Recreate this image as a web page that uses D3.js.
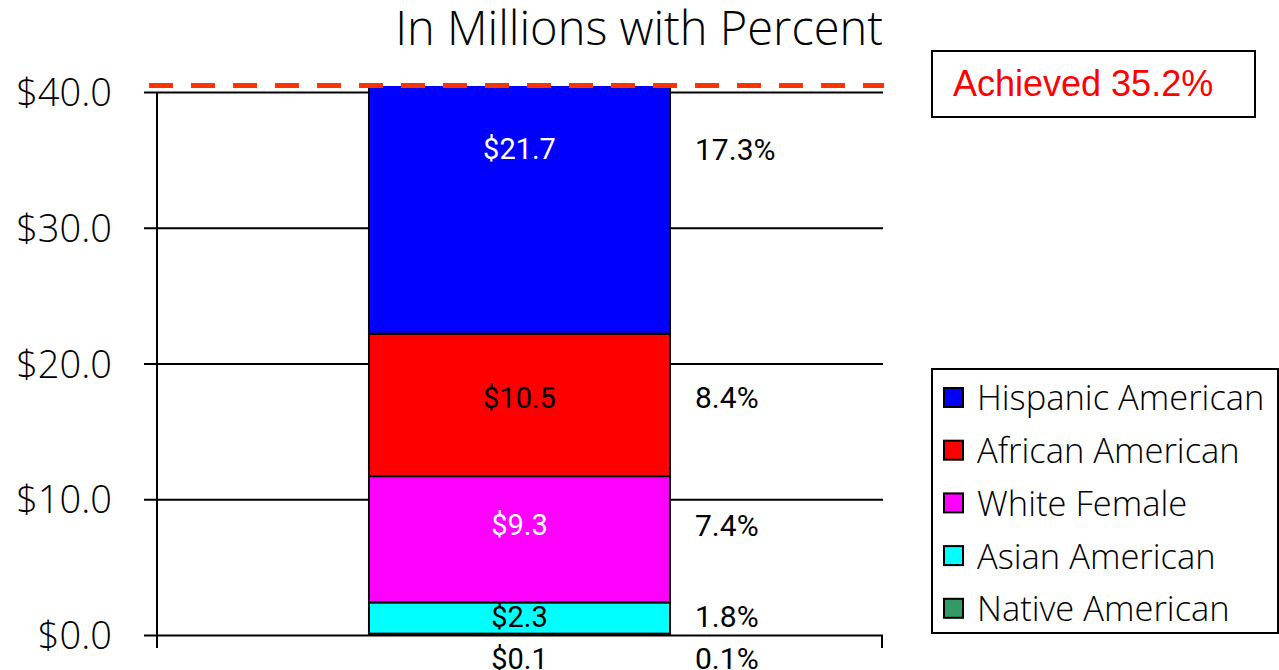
<!DOCTYPE html>
<html>
<head>
<meta charset="utf-8">
<script src="https://cdn.jsdelivr.net/npm/d3@7"></script>
<style>
  html, body { margin: 0; padding: 0; background: #fff; }
  svg { display: block; }
</style>
</head>
<body>
<svg id="chart" width="1279" height="670"></svg>
<script>
// ---- data ----
const categories = ["Native American", "Asian American", "White Female", "African American", "Hispanic American"];
const values = [0.1, 2.3, 9.3, 10.5, 21.7];          // $ millions
const percents = [0.1, 1.8, 7.4, 8.4, 17.3];          // percent
const colors = ["#339966", "#00FFFF", "#FF00FF", "#FF0000", "#0000FF"];
const labelColors = ["#000", "#000", "#fff", "#000", "#fff"];
const labelAnchor = [-1.7, 1.35, 8.1, 17.5, 35.8];    // label positions in data units
const yTicks = [0, 10, 20, 30, 40];
const yTickLabels = ["$0.0", "$10.0", "$20.0", "$30.0", "$40.0"];
const legendOrder = ["Hispanic American", "African American", "White Female", "Asian American", "Native American"];
const titleText = "In Millions with Percent";
const achievedText = "Achieved 35.2%";
const yTop = 40.44;   // visible top of plot area

// ---- layout ----
const svg = d3.select("#chart");
const plot = { left: 157, right: 882, bottom: 635, top: 92 };
const y = d3.scaleLinear().domain([0, 40]).range([plot.bottom, plot.top]);
const x = d3.scaleBand().domain(["All"]).range([plot.left, plot.right]).padding(0.4132);

const thinFont = "'Open Sans', 'DejaVu Sans', sans-serif";

// title
svg.append("text")
  .attr("x", 883).attr("y", 45)
  .attr("text-anchor", "end")
  .style("font-family", thinFont).style("font-weight", 300)
  .style("font-size", "47px").attr("fill", "#000")
  .text(titleText);

// gridlines + y axis
const yAxis = d3.axisLeft(y).tickValues(yTicks)
  .tickSize(-(plot.right + 1 - plot.left))
  .tickSizeOuter(0)
  .tickFormat((d, i) => yTickLabels[i]);
const gy = svg.append("g").attr("transform", `translate(${plot.left},0)`).call(yAxis);
gy.select(".domain").remove();
gy.selectAll(".tick line").attr("x1", -13).attr("stroke", "#000").attr("stroke-width", 2);
gy.selectAll(".tick text")
  .attr("x", -45).attr("dy", "0.36em")
  .style("font-family", thinFont).style("font-weight", 300)
  .style("font-size", "38px").attr("fill", "#000");

// vertical axis line + bottom ticks
svg.append("line").attr("x1", plot.left).attr("x2", plot.left)
  .attr("y1", y(40)).attr("y2", plot.bottom + 13)
  .attr("stroke", "#000").attr("stroke-width", 2);
svg.append("line").attr("x1", plot.right).attr("x2", plot.right)
  .attr("y1", plot.bottom).attr("y2", plot.bottom + 13)
  .attr("stroke", "#000").attr("stroke-width", 2);

// stacked bar
const stackData = [Object.fromEntries(categories.map((c, i) => [c, values[i]]))];
const series = d3.stack().keys(categories)(stackData);

svg.append("clipPath").attr("id", "plotclip")
  .append("rect").attr("x", 0).attr("y", y(yTop)).attr("width", 1279).attr("height", 670);

const gBar = svg.append("g").attr("clip-path", "url(#plotclip)");
gBar.selectAll("rect").data(series).join("rect")
  .attr("x", x("All"))
  .attr("width", x.bandwidth())
  .attr("y", d => y(d[0][1]))
  .attr("height", d => y(d[0][0]) - y(d[0][1]))
  .attr("fill", (d, i) => colors[i])
  .attr("stroke", "#000").attr("stroke-width", 2);

// dashed line at top
svg.append("line")
  .attr("x1", 149).attr("x2", 884)
  .attr("y1", y(yTop) - 0.5).attr("y2", y(yTop) - 0.5)
  .attr("stroke", "#FF3300").attr("stroke-width", 5)
  .attr("stroke-dasharray", "24,18");

// value labels
const labelFont = "Roboto, 'Liberation Sans', sans-serif";
svg.append("g").selectAll("text").data(categories).join("text")
  .attr("x", x("All") + x.bandwidth() / 2)
  .attr("y", (d, i) => y(labelAnchor[i]))
  .attr("dy", "0.36em")
  .attr("text-anchor", "middle")
  .style("font-family", labelFont).style("font-size", "29px")
  .attr("fill", (d, i) => labelColors[i])
  .text((d, i) => "$" + d3.format(".1f")(values[i]));

// percent labels
svg.append("g").selectAll("text").data(categories).join("text")
  .attr("x", 695)
  .attr("y", (d, i) => y(labelAnchor[i]))
  .attr("dy", "0.36em")
  .style("font-family", labelFont).style("font-size", "30px")
  .attr("fill", "#000")
  .text((d, i) => d3.format(".1f")(percents[i]) + "%");

// achieved box
svg.append("rect").attr("x", 932).attr("y", 51).attr("width", 323).attr("height", 66)
  .attr("fill", "#fff").attr("stroke", "#000").attr("stroke-width", 2);
svg.append("text").attr("x", 953).attr("y", 96)
  .style("font-family", "'Liberation Sans', Arial, sans-serif").style("font-size", "36px")
  .attr("fill", "#FF0000").text(achievedText);

// legend
svg.append("rect").attr("x", 932).attr("y", 369).attr("width", 346).attr("height", 264)
  .attr("fill", "#fff").attr("stroke", "#000").attr("stroke-width", 2);
const lg = svg.append("g").selectAll("g").data(legendOrder).join("g")
  .attr("transform", (d, i) => `translate(944, ${388 + i * 52.7})`);
lg.append("rect").attr("width", 19).attr("height", 19)
  .attr("fill", d => colors[categories.indexOf(d)])
  .attr("stroke", "#000").attr("stroke-width", 2);
lg.append("text").attr("x", 33).attr("y", 10).attr("dy", "0.36em")
  .style("font-family", thinFont).style("font-weight", 300)
  .style("font-size", "34.5px").attr("fill", "#000")
  .text(d => d);
</script>
</body>
</html>
